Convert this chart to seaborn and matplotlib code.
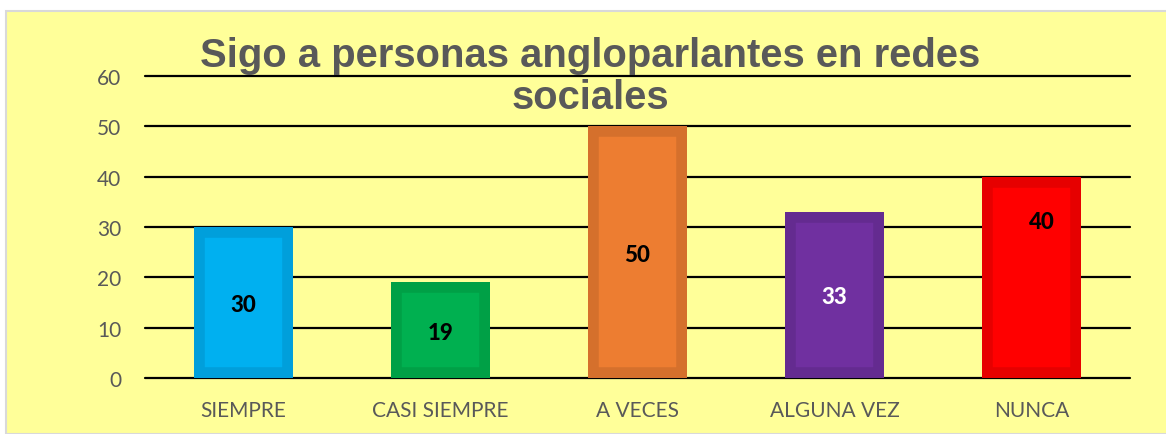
import matplotlib
matplotlib.use('Agg')
import matplotlib.pyplot as plt
import seaborn as sns
import pandas as pd
from matplotlib.patches import Rectangle

# chart data
categorias = ['SIEMPRE', 'CASI SIEMPRE', 'A VECES', 'ALGUNA VEZ', 'NUNCA']
valores = [30, 19, 50, 33, 40]
colores = ['#00B0F0', '#00B050', '#ED7D31', '#7030A0', '#FF0000']
bordes = ['#009FDB', '#00A046', '#D5702C', '#642B90', '#E60000']
color_etiqueta = ['black', 'black', 'black', 'white', 'black']
titulo = 'Sigo a personas angloparlantes en redes\nsociales'

df = pd.DataFrame({'cat': categorias, 'val': valores})

sns.set_theme(style='white')
plt.rcParams['font.family'] = ['Lato', 'DejaVu Sans']

fig = plt.figure(figsize=(11.66, 4.35), dpi=100, facecolor='white')

# yellow chart area with light grey border
fig.patches.append(Rectangle((6 / 1166, 0), 1.0, (435 - 12) / 435,
                             transform=fig.transFigure, facecolor='#FFFF99',
                             edgecolor='#D9D9D9', linewidth=1.5, zorder=-10))

ax = fig.add_axes([145 / 1166, 1 - 379 / 435, 985 / 1166, (379 - 77) / 435])
ax.set_facecolor('none')

sns.barplot(data=df, x='cat', y='val', hue='cat', palette=colores,
            legend=False, width=0.5, ax=ax, saturation=1)

# darker inner border on each bar
for patch, borde in zip(ax.patches, bordes):
    patch.set_edgecolor(borde)
    patch.set_linewidth(15.5)
    patch.set_clip_path(patch)
    patch.set_zorder(3)

ax.set_ylim(0, 60)
ax.set_yticks(range(0, 61, 10))
ax.yaxis.grid(True, color='black', linewidth=1.6)
ax.set_axisbelow(True)
for gl in ax.get_ygridlines():
    gl.set_clip_on(False)
sns.despine(ax=ax, left=True, bottom=True, top=True, right=True)

ax.set_xlabel('')
ax.set_ylabel('')
ax.tick_params(axis='both', length=0, labelsize=15, labelcolor='#595959')
ax.tick_params(axis='y', pad=17)
ax.tick_params(axis='x', pad=16)

# data labels
for i, v in enumerate(valores):
    y = v / 2
    dx = 0
    if categorias[i] == 'NUNCA':
        y = v * 0.785
        dx = 0.05
    ax.text(i + dx, y, str(v), ha='center', va='center_baseline', fontsize=16,
            fontweight='black', color=color_etiqueta[i], zorder=5)

fig.text(590 / 1166, 1 - 37 / 435, titulo, ha='center', va='top',
         fontsize=28.8, fontweight='bold', color='#595959',
         family=['Liberation Sans', 'DejaVu Sans'], linespacing=1.12)

fig.savefig('out.png', dpi=100, facecolor='white')
